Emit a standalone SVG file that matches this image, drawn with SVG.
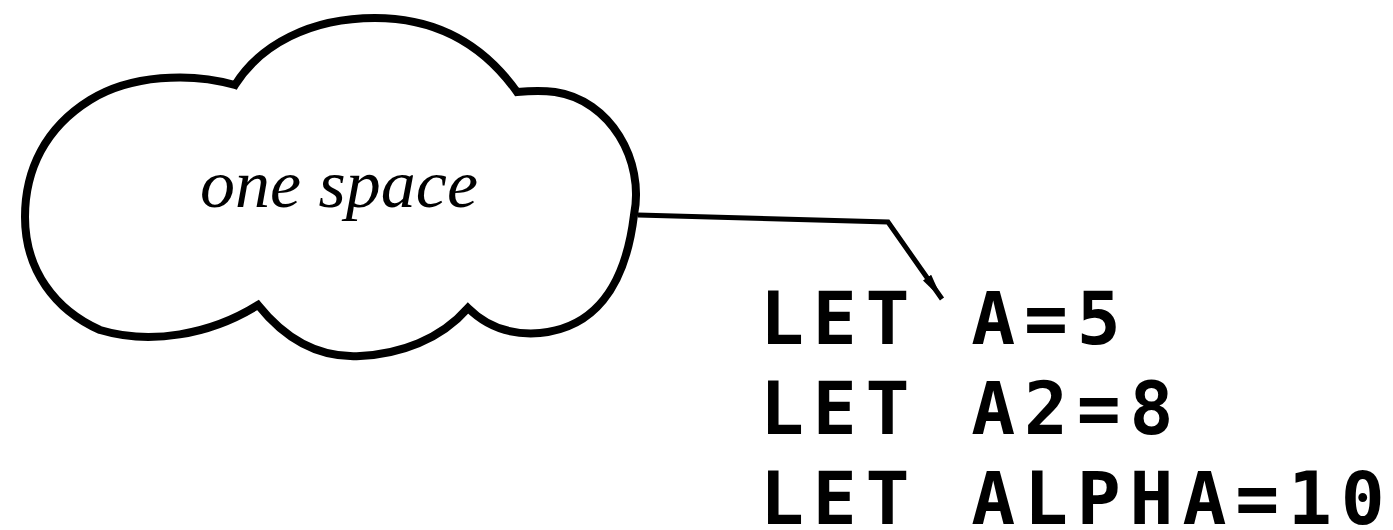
<svg xmlns="http://www.w3.org/2000/svg" width="1393" height="530" viewBox="0 0 1393 530">
  <style>
    .cloud { fill: #ffffff; stroke: #000000; stroke-width: 8; stroke-linejoin: miter; }
    .label { font-family: "Liberation Serif", "Times New Roman", serif; font-style: italic; font-size: 68px; fill: #000000; }
    .code { font-family: "DejaVu Sans Mono", "Liberation Mono", monospace; font-weight: bold; font-size: 73px; fill: #000000; }
    .link { fill: none; stroke: #000000; stroke-width: 5; stroke-linejoin: miter; }
  </style>
  <defs>
    <marker id="arrowhead" markerUnits="userSpaceOnUse" markerWidth="30" markerHeight="16" refX="26" refY="8" orient="auto">
      <path d="M0,3 L26,8 L0,13 Z" fill="#000000"/>
    </marker>
  </defs>
  <rect x="0" y="0" width="1393" height="530" fill="#ffffff"/>

  <!-- cloud node -->
  <g id="cloud">
    <path class="cloud" d="M235,85
      C190,72 130,75 90,100
      C45,128 25,170 25,217
      C25,270 55,310 100,330
      C150,345 210,335 258,305
      C290,345 325,358 360,356
      C400,354 440,340 468,308
      C490,330 515,335 540,333
      C592,328 625,290 634,215
      C645,160 610,100 555,92
      C540,90 528,91 517,92
      C480,40 430,18 375,18
      C310,18 260,45 235,85 Z"/>
    <text class="label" x="200" y="207" textLength="278" lengthAdjust="spacingAndGlyphs">one space</text>
  </g>

  <!-- program listing node: fixed character pitch of 52.8 -->
  <g id="listing">
    <text class="code" x="760 812.8 865.6 918.4 971.2 1024 1076.8" y="344">LET A=5</text>
    <text class="code" x="760 812.8 865.6 918.4 971.2 1024 1076.8 1129.6" y="434">LET A2=8</text>
    <text class="code" x="760 812.8 865.6 918.4 971.2 1024 1076.8 1129.6 1182.4 1235.2 1288 1340.8" y="524">LET ALPHA=10</text>
  </g>

  <!-- connectors -->
  <g id="connectors">
    <polyline class="link" points="638,215 888,222 942,299" marker-end="url(#arrowhead)"/>
  </g>
</svg>
